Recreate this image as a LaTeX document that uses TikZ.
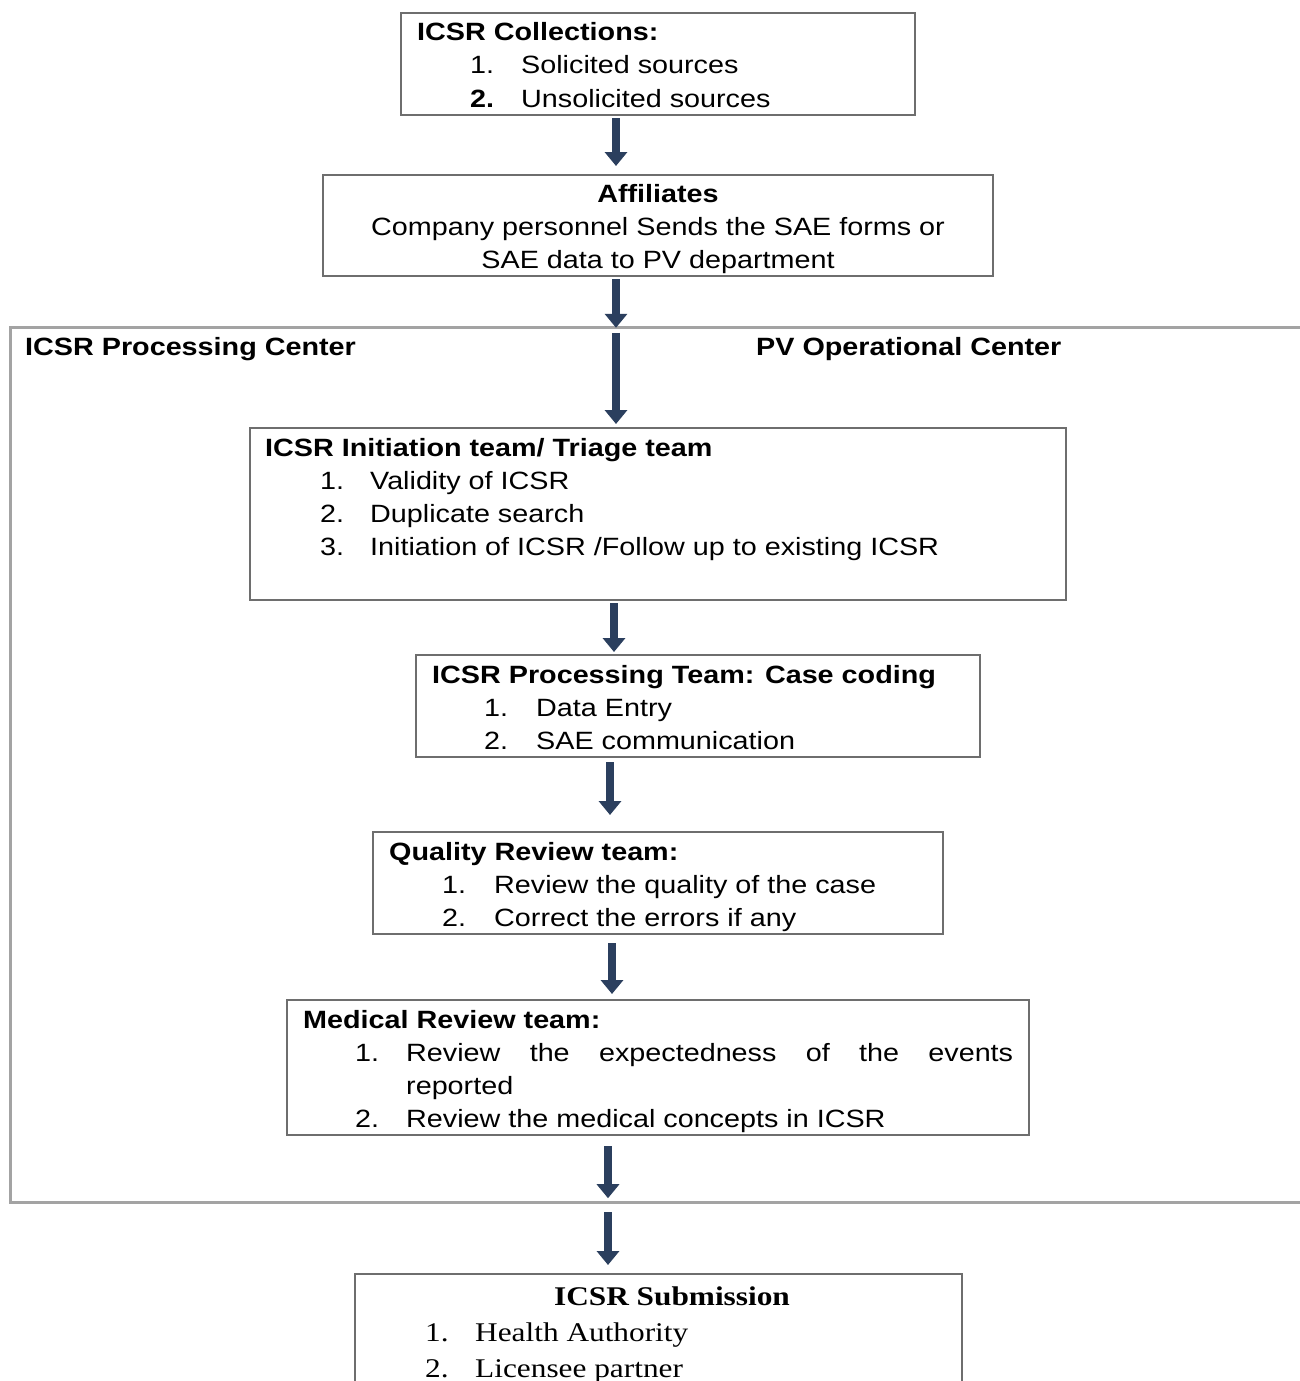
\documentclass[tikz,border=0pt]{standalone}
\usepackage{fontspec}
\setmainfont{Liberation Sans}[FakeStretch=1.15]
\newfontfamily\seriffont{Liberation Serif}[FakeStretch=1.16]
\usetikzlibrary{arrows.meta,calc}
\definecolor{arrowblue}{HTML}{2B3F5E}
\definecolor{boxgray}{HTML}{6E6E6E}
\definecolor{framegray}{HTML}{A3A3A3}
\begin{document}
\begin{tikzpicture}[x=1pt,y=-1pt,
  box/.style={draw=boxgray,line width=2pt,rectangle,inner sep=0pt},
  txt/.style={anchor=base west,inner sep=0pt,font=\fontsize{25}{30}\selectfont},
  ctxt/.style={anchor=base,inner sep=0pt,font=\fontsize{25}{30}\selectfont},
  bold/.style={font=\fontsize{25}{30}\selectfont\bfseries},
  stxt/.style={anchor=base west,inner sep=0pt,font=\fontsize{27}{32}\selectfont\seriffont},
  flow/.style={draw=arrowblue,line width=8pt,-{Triangle[width=22pt,length=14pt]}}]
\useasboundingbox (0,0) rectangle (1299,1381);
\fill[white] (0,0) rectangle (1299,1381);

% outer frame of the processing / operational centres (open on the right)
\node[draw=none,minimum width=1330pt,minimum height=875pt,inner sep=0pt] (outer) at (675,764.5) {};
\draw[framegray,line width=3pt] (1320,327) -- (10,327) -- (10,1202) -- (1320,1202);
\node[txt,bold] (pc) at (25,355) {ICSR Processing Center};
\node[txt,bold] (oc) at (756,355) {PV Operational Center};

% boxes
\node[box,minimum width=514pt,minimum height=102pt] (coll) at (658,64) {};
\node[box,minimum width=670pt,minimum height=101pt] (aff) at (658,225.5) {};
\node[box,minimum width=816pt,minimum height=172pt] (init) at (658,514) {};
\node[box,minimum width=564pt,minimum height=102pt] (proc) at (698,706) {};
\node[box,minimum width=570pt,minimum height=102pt] (qual) at (658,883) {};
\node[box,minimum width=742pt,minimum height=135pt] (med) at (658,1067.5) {};
\node[box,minimum width=607pt,minimum height=140pt] (sub) at (658.5,1344) {};

% ICSR collections
\node[txt,bold] (c0) at (417,41) {ICSR Collections:};
\node[txt] (c1n) at (470,74) {1.};
\node[txt] (c1) at (521,74) {Solicited sources};
\node[txt,bold] (c2n) at (470,107) {2.};
\node[txt] (c2) at (521,107) {Unsolicited sources};

% affiliates
\node[ctxt,bold] (a0) at (658,202) {Affiliates};
\node[ctxt] (a1) at (658,235) {Company personnel Sends the SAE forms or};
\node[ctxt] (a2) at (658,268) {SAE data to PV department};

% initiation / triage
\node[txt,bold] (i0) at (265,456) {ICSR Initiation team/ Triage team};
\node[txt] (i1n) at (320,489) {1.};
\node[txt] (i1) at (370,489) {Validity of ICSR};
\node[txt] (i2n) at (320,522) {2.};
\node[txt] (i2) at (370,522) {Duplicate search};
\node[txt] (i3n) at (320,555) {3.};
\node[txt] (i3) at (370,555) {Initiation of ICSR /Follow up to existing ICSR};

% processing
\node[txt,bold] (p0) at (432,683) {ICSR Processing Team: Case coding};
\node[txt] (p1n) at (484,716) {1.};
\node[txt] (p1) at (536,716) {Data Entry};
\node[txt] (p2n) at (484,749) {2.};
\node[txt] (p2) at (536,749) {SAE communication};

% quality review
\node[txt,bold] (q0) at (389,860) {Quality Review team:};
\node[txt] (q1n) at (442,893) {1.};
\node[txt] (q1) at (494,893) {Review the quality of the case};
\node[txt] (q2n) at (442,926) {2.};
\node[txt] (q2) at (494,926) {Correct the errors if any};

% medical review
\node[txt,bold] (m0) at (303,1028) {Medical Review team:};
\node[txt] (m1n) at (355,1061) {1.};
\node[txt] (m1) at (406,1061) {\makebox[607pt][s]{Review the expectedness of the events}};
\node[txt] (m1b) at (406,1094) {reported};
\node[txt] (m2n) at (355,1127) {2.};
\node[txt] (m2) at (406,1127) {Review the medical concepts in ICSR};

% submission
\node[anchor=base,inner sep=0pt,font=\fontsize{27}{32}\selectfont\seriffont\bfseries] (s0) at (672,1305) {ICSR Submission};
\node[stxt] (s1n) at (425,1341) {1.};
\node[stxt] (s1) at (475,1341) {Health Authority};
\node[stxt] (s2n) at (425,1377) {2.};
\node[stxt] (s2) at (475,1377) {Licensee partner};

% flow arrows (yshift is measured upwards on the page)
\draw[flow] ([xshift=-42pt,yshift=-2pt]coll.south) -- ([xshift=-42pt,yshift=8pt]aff.north);
\draw[flow] ([xshift=-42pt,yshift=-2pt]aff.south) -- ([xshift=-42pt,yshift=-1pt]aff.south |- outer.north);
\draw[flow] ([xshift=-42pt,yshift=-6pt]aff.south |- outer.north) -- ([xshift=-42pt,yshift=3pt]init.north);
\draw[flow] ([xshift=-44pt,yshift=-2pt]init.south) -- ([xshift=-44pt,yshift=2pt]init.south |- proc.north);
\draw[flow] ([xshift=-88pt,yshift=-4pt]proc.south) -- ([xshift=-88pt,yshift=16pt]proc.south |- qual.north);
\draw[flow] ([xshift=-46pt,yshift=-8pt]qual.south) -- ([xshift=-46pt,yshift=5pt]qual.south |- med.north);
\draw[flow] ([xshift=-50pt,yshift=-10pt]med.south) -- ([xshift=-50pt,yshift=4pt]med.south |- outer.south);
\draw[flow] ([xshift=-50pt,yshift=-10pt]med.south |- outer.south) -- ([xshift=-50.5pt,yshift=8pt]sub.north);
\end{tikzpicture}
\end{document}
